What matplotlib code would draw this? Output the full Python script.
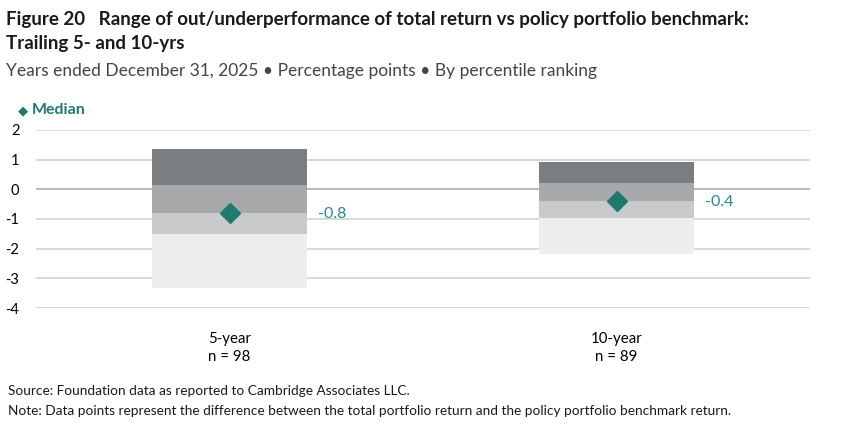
import numpy as np
import matplotlib
matplotlib.use("Agg")
import matplotlib.pyplot as plt

plt.rcParams['font.family'] = ['Lato', 'DejaVu Sans']

# Percentile breakpoints (percentage points)
periods = ["5-year", "10-year"]
counts = [98, 89]
p5 = [1.35, 0.92]
p25 = [0.16, 0.20]
median = [-0.8, -0.4]
p75 = [-1.49, -0.97]
p95 = [-3.32, -2.17]
yticks = [2, 1, 0, -1, -2, -3, -4]

seg_colors = ["#7b7e81", "#a8a9ab", "#c9cacc", "#edeeee"]
teal = "#1f7a6e"
label_teal = "#2a8796"

fig = plt.figure(figsize=(8.51, 4.38), dpi=100)
ax = fig.add_axes([36/851, 1-308/438, (810-36)/851, (308-130)/438])

x = np.arange(len(periods))
w = 0.40
edges = [p5, p25, median, p75, p95]
for k in range(4):
    top = np.array(edges[k])
    bot = np.array(edges[k+1])
    ax.bar(x, top-bot, bottom=bot, width=w, color=seg_colors[k], zorder=2, linewidth=0)

ax.plot(x, median, linestyle='none', marker='D', ms=10.5, color=teal, zorder=3)
for i in range(len(x)):
    ax.annotate("%.1f" % median[i], (x[i]+w/2, median[i]), xytext=(8, -0.5),
                textcoords='offset points', va='center', ha='left',
                color=label_teal, fontsize=11.5)

ax.set_xlim(-0.5, 1.5)
ax.set_ylim(-4, 2)
ax.set_yticks(yticks)
ax.set_yticklabels([str(t) for t in yticks], fontsize=10.5)
for t in yticks:
    ax.axhline(t, color="#a4a4a4" if t == 0 else "#cfcfcf", lw=1.1, zorder=1)
ax.set_xticks(x)
ax.set_xticklabels(["%s\nn = %d" % (p, n) for p, n in zip(periods, counts)],
                   fontsize=10.8, linespacing=1.4)
ax.tick_params(axis='both', length=0)
ax.tick_params(axis='y', pad=12)
ax.tick_params(axis='x', pad=17)
for s in ax.spines.values():
    s.set_visible(False)

fig.text(6/851, 1-20/438, "Figure 20   Range of out/underperformance of total return vs policy portfolio benchmark:",
         fontsize=13.5, fontweight='bold', va='center', ha='left', color="#1a1a1a")
fig.text(6/851, 1-44/438, "Trailing 5- and 10-yrs",
         fontsize=13.5, fontweight='bold', va='center', ha='left', color="#1a1a1a")
fig.text(6/851, 1-71/438, "Years ended December 31, 2025 \u2022 Percentage points \u2022 By percentile ranking",
         fontsize=12.5, va='center', ha='left', color="#444444")

fig.text(18/851, 1-110/438, "\u25c6", fontsize=9.5, va='center', ha='left', color=teal)
fig.text(32/851, 1-110/438, "Median", fontsize=11.5, fontweight='bold', va='center', ha='left', color=teal)

fig.text(8/851, 1-391/438, "Source: Foundation data as reported to Cambridge Associates LLC.",
         fontsize=9.8, va='center', ha='left', color="#1a1a1a")
fig.text(8/851, 1-411/438, "Note: Data points represent the difference between the total portfolio return and the policy portfolio benchmark return.",
         fontsize=9.8, va='center', ha='left', color="#1a1a1a")

fig.savefig("out.png", dpi=100)
